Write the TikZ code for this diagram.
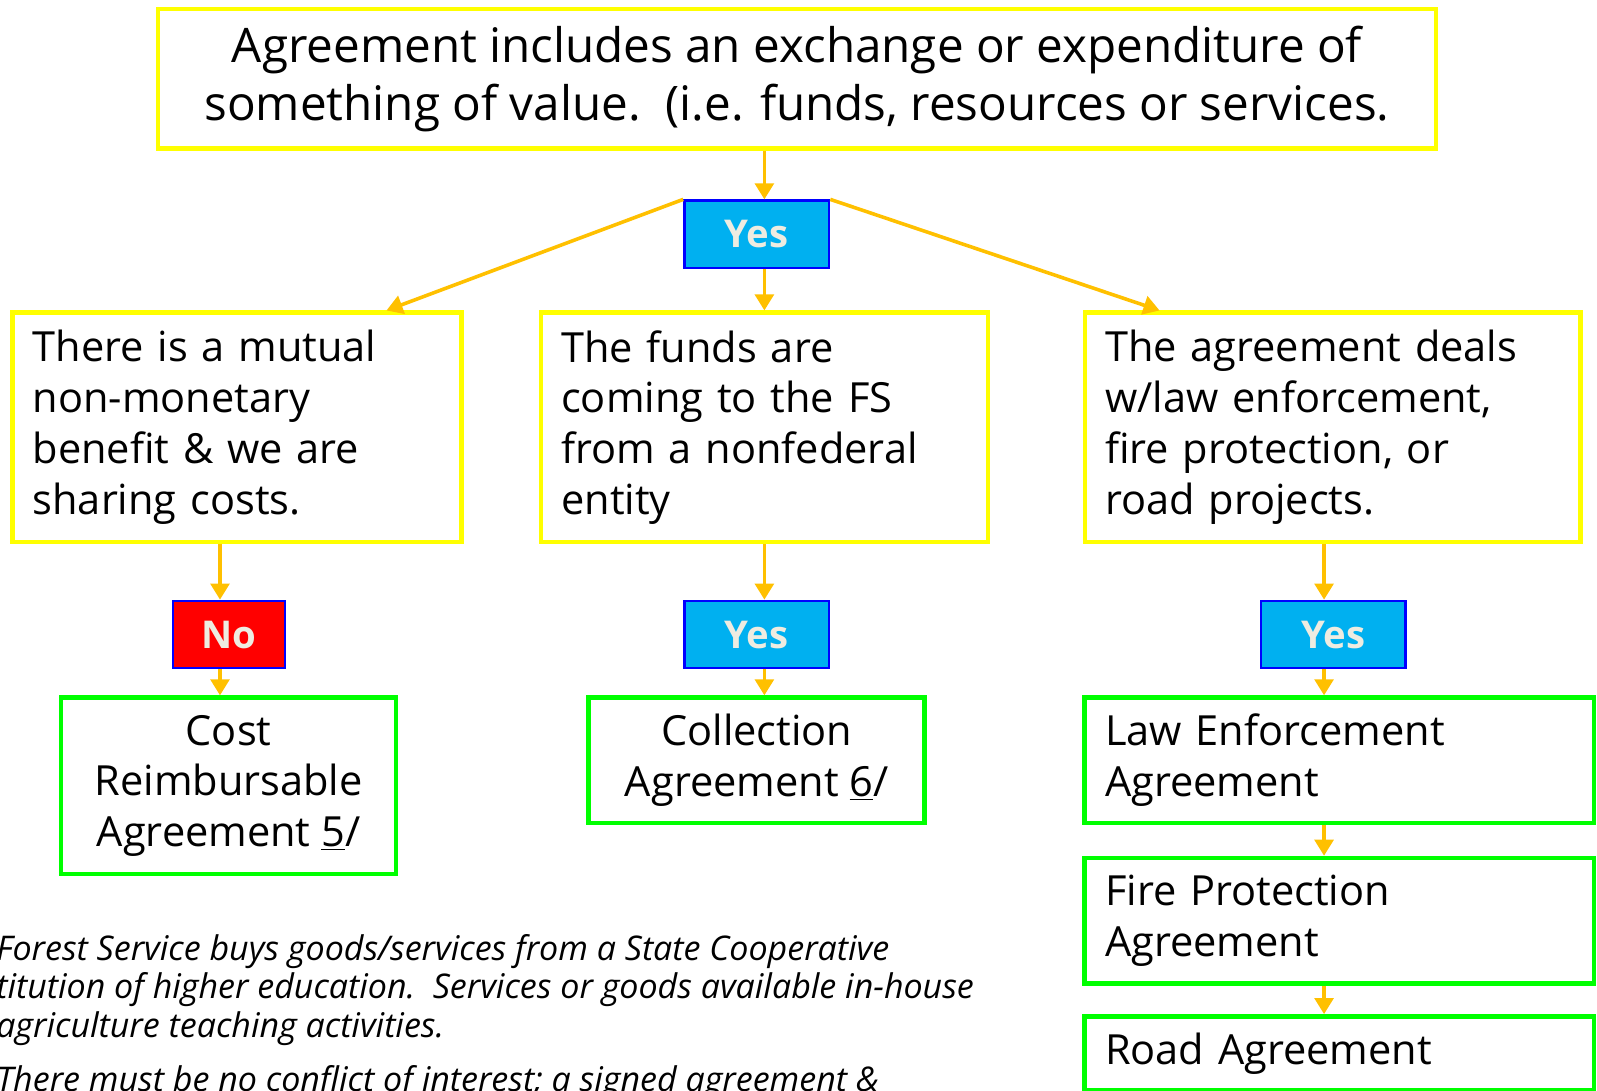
\documentclass[tikz,border=0pt]{standalone}
\usepackage{fontspec}
\setmainfont{Open Sans}
\usepackage{tikz}
\usetikzlibrary{arrows.meta,calc}
\definecolor{fsyellow}{RGB}{255,255,0}
\definecolor{fsgold}{RGB}{255,192,0}
\definecolor{fsgreen}{RGB}{0,255,0}
\definecolor{fscyan}{RGB}{0,176,240}
\definecolor{fsblue}{RGB}{0,0,255}
\definecolor{fsred}{RGB}{255,0,0}
\definecolor{fscream}{RGB}{238,236,225}
\newcommand\titlefont{\fontsize{26.6}{32.3}\selectfont}
\newcommand\boxfont{\fontsize{23.2}{28.35}\selectfont}
\newcommand\answerfont{\fontsize{21.4}{24}\selectfont\bfseries}
\newcommand\notefont{\fontsize{19}{21.5}\selectfont\itshape}
\tikzset{
    flow/.style={draw=fsgold, line width=2pt, -{Triangle[width=10.5pt,length=9pt]}},
    question/.style={draw=fsyellow, line width=2.5pt, inner xsep=0.4cm, inner ysep=0pt,
        align=left, minimum height=4.5cm, font=\boxfont},
    answer/.style={draw=fsblue, line width=1.4pt, fill=#1, minimum width=2.84cm,
        minimum height=1.32cm, inner sep=0pt, text=fscream, font=\answerfont},
    outcome/.style={draw=fsgreen, line width=2.6pt, inner xsep=0.4cm, inner ysep=0pt,
        font=\boxfont},
}

\begin{document}
\begin{tikzpicture}[x=0.02cm, y=-0.02cm]
\useasboundingbox (0,0) rectangle (1568,1071);

\node[draw=fsyellow, line width=2.5pt, minimum width=25.1cm, minimum height=2.74cm,
    align=center, font=\titlefont] (value) at (782.5,77.5)
    {Agreement includes an exchange or expenditure of\\something of value.\ \ (i.e. funds, resources or services.};

\node[answer=fscyan] (yes1) at (743,230) {Yes};

\node[question, text width=8.02cm] (mutual) at (232.5,419.5)
    {There is a mutual\\non-monetary\\benefit \& we are\\sharing costs.};
\node[question, text width=7.98cm] (funds) at (750.5,419.5)
    {The funds are\\coming to the FS\\from a nonfederal\\entity};
\node[question, text width=8.94cm] (lawfire) at (1308.5,419.5)
    {The agreement deals\\w/law enforcement,\\fire protection, or\\road projects.};

\node[answer=fsred, minimum width=2.2cm] (no) at (225,623) {No};
\node[answer=fscyan] (yes2) at (743,623) {Yes};
\node[answer=fscyan] (yes3) at (1309,623) {Yes};

\node[outcome, align=center, minimum width=6.58cm, minimum height=3.46cm] (cost) at (224.5,771.5)
    {Cost\\Reimbursable\\Agreement \underline{5}/};
\node[outcome, align=center, minimum width=6.6cm, minimum height=2.46cm] (collect) at (743,746.5)
    {Collection\\Agreement \underline{6}/};
\node[outcome, align=left, text width=9.2cm, minimum height=2.46cm] (law) at (1315,746.5)
    {Law Enforcement\\Agreement};
\node[outcome, align=left, text width=9.2cm, minimum height=2.46cm] (fire) at (1315,904)
    {Fire Protection\\Agreement};
\node[outcome, align=left, text width=9.2cm, minimum height=1.46cm] (road) at (1315,1034.5)
    {Road Agreement};

\coordinate (lcol) at (216,0);
\coordinate (rcol) at (1300,0);

\draw[flow] (value.south -| funds) -- (yes1.north -| funds);
\draw[flow] (yes1.south -| funds) -- (funds.north);
\draw[flow] (yes1.north west) -- ($(mutual.north west)!0.83!(mutual.north east)$);
\draw[flow] (yes1.north east) -- ($(lawfire.north west)!0.154!(lawfire.north east)$);

\draw[flow] (mutual.south -| lcol) -- (no.north -| lcol);
\draw[flow] (no.south -| lcol) -- (cost.north -| lcol);
\draw[flow] (funds.south) -- (yes2.north -| funds);
\draw[flow] (yes2.south -| funds) -- (collect.north -| funds);
\draw[flow] (lawfire.south -| rcol) -- (yes3.north -| rcol);
\draw[flow] (yes3.south -| rcol) -- (law.north -| rcol);
\draw[flow] (law.south -| rcol) -- (fire.north -| rcol);
\draw[flow] (fire.south -| rcol) -- (road.north -| rcol);

\node[font=\notefont, align=left, anchor=north west, inner sep=0pt] (note) at (-4,917)
    {Forest Service buys goods/services from a State Cooperative\\
     titution of higher education.\ \ Services or goods available in-house\\
     agriculture teaching activities.\\[0.3cm]
     There must be no conflict of interest; a signed agreement \&};
\end{tikzpicture}
\end{document}
